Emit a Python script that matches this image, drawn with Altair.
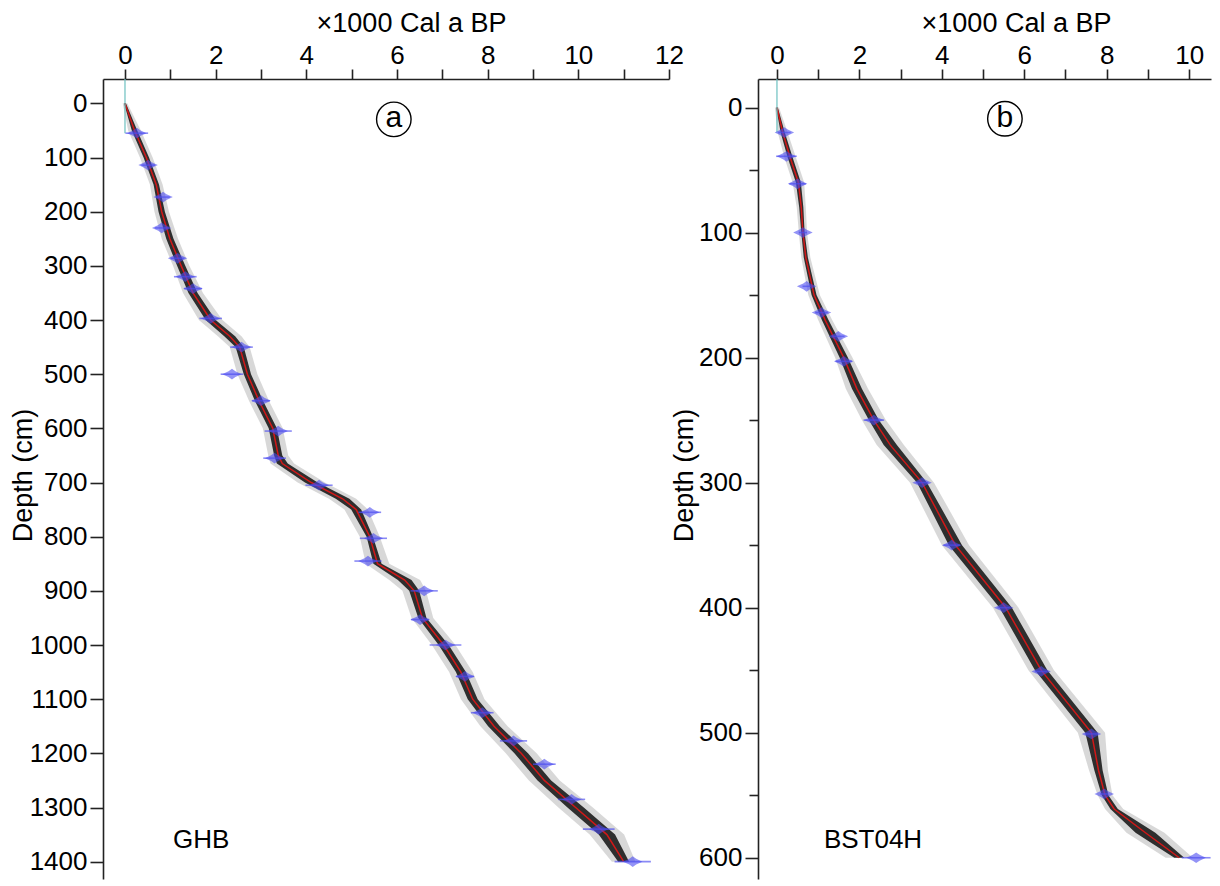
import altair as alt
import pandas as pd

FONT = "Liberation Sans"

# ---------------- Panel (a) GHB ----------------
a_depth = [0, 50, 100, 150, 200, 250, 300, 350, 400, 430, 450, 500, 550, 600, 650, 665,
           700, 730, 750, 800, 850, 880, 900, 950, 1000, 1050, 1100, 1150, 1200, 1250,
           1300, 1350, 1400]
a_median = [0, 0.21, 0.47, 0.69, 0.81, 0.99, 1.24, 1.50, 1.89, 2.31, 2.53, 2.70, 2.96,
            3.26, 3.38, 3.47, 4.11, 4.80, 5.10, 5.40, 5.57, 6.17, 6.38, 6.56, 7.03, 7.41,
            7.67, 8.14, 8.74, 9.25, 9.94, 10.63, 11.0]
a_inner = [0.02, 0.06, 0.06, 0.06, 0.07, 0.08, 0.09, 0.10, 0.11, 0.12, 0.09, 0.08, 0.09,
           0.09, 0.09, 0.12, 0.14, 0.15, 0.11, 0.07, 0.09, 0.15, 0.11, 0.09, 0.11, 0.11,
           0.11, 0.13, 0.15, 0.15, 0.18, 0.18, 0.12]
a_outer = [0.05, 0.14, 0.14, 0.14, 0.16, 0.18, 0.18, 0.22, 0.26, 0.26, 0.22, 0.22, 0.22,
           0.22, 0.22, 0.26, 0.30, 0.30, 0.26, 0.22, 0.26, 0.34, 0.26, 0.24, 0.26, 0.26,
           0.26, 0.30, 0.34, 0.34, 0.38, 0.38, 0.26]
a_date_depth = [55, 114, 173, 230, 286, 320, 342, 397, 450, 500, 549, 605, 655, 705, 755,
                803, 845, 900, 953, 1000, 1058, 1125, 1177, 1220, 1285, 1340, 1400]
a_date_age = [0.26, 0.51, 0.84, 0.81, 1.16, 1.33, 1.50, 1.89, 2.57, 2.36, 3.0, 3.38, 3.30,
              4.28, 5.40, 5.48, 5.36, 6.60, 6.51, 7.07, 7.50, 7.88, 8.57, 9.25, 9.85,
              10.45, 11.2]
a_date_err = [0.25, 0.15, 0.15, 0.15, 0.15, 0.25, 0.20, 0.25, 0.25, 0.25, 0.20, 0.30, 0.25,
              0.30, 0.25, 0.30, 0.30, 0.30, 0.20, 0.35, 0.20, 0.25, 0.30, 0.25, 0.30,
              0.35, 0.40]

# ---------------- Panel (b) BST04H ----------------
b_depth = [0, 20, 40, 60, 80, 100, 120, 150, 170, 200, 225, 250, 270, 300, 350, 400, 450,
           500, 530, 550, 561, 580, 600]
b_median = [0, 0.14, 0.32, 0.52, 0.59, 0.63, 0.70, 0.90, 1.17, 1.62, 1.94, 2.35, 2.75,
            3.52, 4.33, 5.55, 6.41, 7.63, 7.80, 7.96, 8.18, 8.94, 9.76]
b_inner = [0.02, 0.05, 0.06, 0.06, 0.05, 0.04, 0.05, 0.06, 0.08, 0.10, 0.12, 0.12, 0.16,
           0.12, 0.16, 0.15, 0.15, 0.15, 0.10, 0.08, 0.09, 0.24, 0.12]
b_outer = [0.05, 0.12, 0.14, 0.14, 0.11, 0.10, 0.11, 0.14, 0.17, 0.21, 0.27, 0.29, 0.33,
           0.29, 0.33, 0.31, 0.31, 0.33, 0.23, 0.18, 0.22, 0.46, 0.33]
b_date_depth = [20, 39, 61, 100, 143, 164, 183, 203, 250, 300, 350, 400, 451, 501, 549, 600]
b_date_age = [0.18, 0.23, 0.50, 0.63, 0.72, 1.08, 1.49, 1.62, 2.35, 3.52, 4.24, 5.50, 6.41,
              7.63, 7.94, 10.17]
b_date_err = [0.15, 0.25, 0.20, 0.10, 0.10, 0.15, 0.15, 0.20, 0.25, 0.15, 0.20, 0.15, 0.15,
              0.15, 0.10, 0.35]

X_TITLE = "×1000 Cal a BP"
Y_TITLE = "Depth (cm)"

BLOB = "M-1,0L-0.35,-0.3L0,-0.55L0.35,-0.3L1,0L0.35,0.3L0,0.55L-0.35,0.3Z"

HEIGHT = 800


def panel(depth, median, inner, outer, ddepth, dage, derr, xdom, ydom, xmax_tick,
          ymax_tick, width, height, letter, letter_age, letter_depth, name, name_age,
          name_depth, cyan_end, title_x, ytitle_x):
    band = pd.DataFrame({
        "depth": depth,
        "median": median,
        "lo_in": [m - h for m, h in zip(median, inner)],
        "hi_in": [m + h for m, h in zip(median, inner)],
        "lo_out": [m - h for m, h in zip(median, outer)],
        "hi_out": [m + h for m, h in zip(median, outer)],
    })
    dates = pd.DataFrame({
        "depth": ddepth,
        "age": dage,
        "lo": [a - e for a, e in zip(dage, derr)],
        "hi": [a + e for a, e in zip(dage, derr)],
    })
    xs = alt.Scale(domain=xdom, nice=False, zero=False)
    ys = alt.Scale(domain=ydom, nice=False, zero=False, reverse=True)
    xaxis = alt.Axis(
        orient="top", values=list(range(0, xmax_tick + 1)),
        labelExpr="datum.value % 2 === 0 ? datum.label : ''",
        title=X_TITLE, titleX=title_x, titleY=-56, titleBaseline="middle",
        titleAlign="center", tickSize=10, labelBaseline="alphabetic", labelPadding=6,
        labelOverlap=False, labelFlush=False,
    )
    yaxis = alt.Axis(
        orient="left", values=list(range(0, ymax_tick + 1, 50)), format="d",
        labelExpr="datum.value % 100 === 0 ? datum.label : ''",
        title=Y_TITLE, titleX=ytitle_x, titleY=height / 2 - 4, titleAngle=-90,
        titleBaseline="middle", titleAlign="center",
        tickSize={"condition": {"test": "datum.value % 100 === 0", "value": 13}, "value": 9},
        labelPadding=3, labelOverlap=False, labelFlush=False,
    )
    base_y = alt.Y("depth:Q", scale=ys, axis=yaxis)

    outer_l = alt.Chart(band).mark_area(orient="horizontal", color="#a8a8a8",
                                          opacity=0.45).encode(
        x=alt.X("lo_out:Q", scale=xs, axis=xaxis), x2="hi_out:Q", y=base_y)
    inner_l = alt.Chart(band).mark_area(orient="horizontal", color="#111111",
                                          opacity=0.85).encode(
        x=alt.X("lo_in:Q"), x2="hi_in:Q", y=alt.Y("depth:Q"))
    line_l = alt.Chart(band).mark_line(color="#d01818", strokeWidth=1.5).encode(
        x=alt.X("median:Q"), y=alt.Y("depth:Q"), order=alt.Order("depth:Q"))

    cyan = pd.DataFrame({"age": [0], "top": [ydom[0]], "bottom": [cyan_end]})
    cyan_l = alt.Chart(cyan).mark_rule(color="#6cc0c0", strokeWidth=1.2).encode(
        x=alt.X("age:Q"), y=alt.Y("top:Q"), y2="bottom:Q")

    err_l = alt.Chart(dates).mark_rule(color="#4b4bf0", strokeWidth=1.6, opacity=0.65).encode(
        x=alt.X("lo:Q"), x2="hi:Q", y=alt.Y("depth:Q"))
    blob_l = alt.Chart(dates).mark_point(shape=BLOB, filled=True, size=380,
                                         color="#4b4bf0", opacity=0.6).encode(
        x=alt.X("age:Q"), y=alt.Y("depth:Q"))

    lab = pd.DataFrame({"age": [letter_age], "depth": [letter_depth], "t": [letter]})
    circ_l = alt.Chart(lab).mark_point(shape="circle", size=1190, filled=False,
                                       color="black", strokeWidth=1.4, opacity=1).encode(
        x=alt.X("age:Q"), y=alt.Y("depth:Q"))
    let_l = alt.Chart(lab).mark_text(font=FONT, fontSize=30, color="black",
                                     baseline="middle", align="center", dy=-1).encode(
        x=alt.X("age:Q"), y=alt.Y("depth:Q"), text="t:N")

    nm = pd.DataFrame({"age": [name_age], "depth": [name_depth], "t": [name]})
    name_l = alt.Chart(nm).mark_text(font=FONT, fontSize=26, color="black",
                                     baseline="middle", align="center").encode(
        x=alt.X("age:Q"), y=alt.Y("depth:Q"), text="t:N")

    return alt.layer(outer_l, inner_l, line_l, cyan_l, err_l, blob_l, circ_l, let_l,
                     name_l).properties(width=width, height=height)


pa = panel(a_depth, a_median, a_inner, a_outer, a_date_depth, a_date_age, a_date_err,
           [-0.485, 12], [-45, 1432], 12, 1400, 566, HEIGHT,
           "a", 5.93, 29.5, "GHB", 1.68, 1360, 55, 308, -80)
pb = panel(b_depth, b_median, b_inner, b_outer, b_date_depth, b_date_age, b_date_err,
           [-0.46, 10.53], [-22.8, 617], 10, 600, 453, HEIGHT,
           "b", 5.53, 9, "BST04H", 2.33, 586, 20, 258, -74)

chart = alt.hconcat(pa, pb, spacing=89, bounds="flush").properties(
    padding={"left": 0, "top": 0, "right": 0, "bottom": 0}
).configure_view(stroke="transparent").configure_axis(
    grid=False, labelFont=FONT, titleFont=FONT, labelFontSize=26, titleFontSize=27,
    titleFontWeight="normal", labelColor="black", titleColor="black",
    domainColor="#222222", domainWidth=1.6, tickColor="#222222", tickWidth=1.6,
)

chart.save("out.html", embed_options={"renderer": "svg", "actions": False})
